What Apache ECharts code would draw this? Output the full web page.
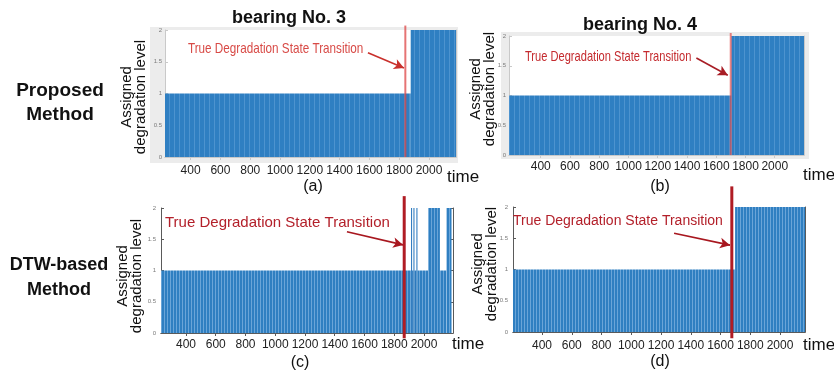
<!DOCTYPE html>
<html><head><meta charset="utf-8">
<script src="https://cdn.jsdelivr.net/npm/echarts@6/dist/echarts.min.js"></script>
<style>html,body{margin:0;padding:0;background:#fff}#c{width:834px;height:371px}</style>
</head><body><div id="c"></div>
<script>
// ---- data ----
const tickLabels = [400, 600, 800, 1000, 1200, 1400, 1600, 1800, 2000];
const yTicks = [0, 0.5, 1, 1.5, 2];
// runs of assigned degradation level: [startTime, endTime, level]
const runsA = [[228, 1877, 1], [1877, 2181, 2]];
const runsB = [[183, 1703, 1], [1703, 2200, 2]];
const runsC = [[232, 1913, 1], [1913, 1920, 2], [1920, 1929, 1], [1929, 1936, 2], [1936, 1949, 1], [1949, 1956, 2],
               [1956, 2028, 1], [2028, 2107, 2], [2107, 2151, 1], [2151, 2185, 2]];
const runsD = [[205, 1698, 1], [1698, 2168, 2]];
// true transition time and vertical extent of its marker line (level units)
const transA = [1841, 2.07, 0];
const transB = [1699, 2.05, 0];
const transC = [1867, 2.19, -0.085];
const transD = [1676, 2.33, -0.1];
// arrow from / to in data coords
const arrowA = [[1590, 1.64], [1832, 1.40]];
const arrowB = [[1464, 1.63], [1679, 1.34]];
const arrowC = [[1482, 1.62], [1860, 1.41]];
const arrowD = [[1288, 1.58], [1664, 1.39]];
const annText = 'True Degradation State Transition';

// ---- layout ----
const panels = [
  {runs: runsA, trans: transA, arrow: arrowA, xr: [228, 2181], grid: {left: 165, top: 30, width: 291, height: 127},
   frame: '#c9c9c9', lblMargin: 8, lineColor: 'rgba(222,70,70,0.75)', lineW: 2, arrowColor: '#c9302c', style: 'a'},
  {runs: runsB, trans: transB, arrow: arrowB, xr: [183, 2200], grid: {left: 509, top: 36, width: 295, height: 119},
   frame: '#c9c9c9', lblMargin: 6, lineColor: 'rgba(225,80,80,0.7)', lineW: 2, arrowColor: '#a81d25', style: 'a'},
  {runs: runsC, trans: transC, arrow: arrowC, xr: [232, 2195], grid: {left: 161, top: 208, width: 292, height: 125},
   frame: '#5a5a5a', lblMargin: 6, lineColor: '#b01c24', lineW: 3, arrowColor: '#a8171f', style: 'c'},
  {runs: runsD, trans: transD, arrow: arrowD, xr: [205, 2168], grid: {left: 513, top: 207, width: 292, height: 125},
   frame: '#5a5a5a', lblMargin: 8, lineColor: '#b01c24', lineW: 3, arrowColor: '#a8171f', style: 'c'}
];

function makePattern(base, light, period) {
  const c = document.createElement('canvas');
  c.width = period; c.height = 4;
  const g = c.getContext('2d');
  g.fillStyle = base; g.fillRect(0, 0, period, 4);
  g.fillStyle = light; g.fillRect(period - 1, 0, 1, 4);
  return {image: c, repeat: 'repeat'};
}
const patA = makePattern('#2f7fc2', '#4d93cf', 5);
const patC = makePattern('#2f7fc1', '#6aa5d8', 3);

const chart = echarts.init(document.getElementById('c'), null, {renderer: 'canvas'});

const grids = [], xAxes = [], yAxes = [], series = [];
panels.forEach((p, i) => {
  grids.push(Object.assign({show: true, backgroundColor: '#ffffff', borderWidth: 0, outerBoundsMode: 'none'}, p.grid));
  const axisFrame = {show: true, lineStyle: {color: p.frame, width: 1}};
  xAxes.push({
    type: 'value', gridIndex: i, position: 'bottom', min: p.xr[0], max: p.xr[1],
    axisLine: axisFrame, splitLine: {show: false},
    axisTick: {show: true, inside: true, length: 3, customValues: tickLabels, lineStyle: {color: p.frame}},
    axisLabel: {customValues: tickLabels, fontSize: 12, color: '#222', margin: p.lblMargin,
      fontFamily: 'Liberation Sans, Arial, sans-serif', formatter: v => String(v)}
  });
  yAxes.push({
    type: 'value', gridIndex: i, position: 'left', min: 0, max: 2,
    axisLine: axisFrame, splitLine: {show: false},
    axisTick: {show: true, inside: true, length: 3, customValues: yTicks, lineStyle: {color: p.frame}},
    axisLabel: {customValues: yTicks, fontSize: 6, color: '#7a7a7a', margin: p.style === 'a' ? 3 : 5,
      formatter: v => String(v)}
  });
  series.push({
    type: 'custom', xAxisIndex: i, yAxisIndex: i, data: p.runs, clip: true, z: 2,
    encode: {x: [0, 1], y: 2},
    renderItem: (params, api) => {
      const a = api.coord([api.value(0), api.value(2)]);
      const b = api.coord([api.value(1), 0]);
      const w = b[0] - a[0];
      return {type: 'rect', shape: {x: a[0], y: a[1], width: w, height: b[1] - a[1]},
        style: {fill: w < 2.5 ? '#2a78bd' : (p.style === 'a' ? patA : patC)}};
    }
  });
  series.push({
    type: 'custom', xAxisIndex: i, yAxisIndex: i, data: [p.trans], clip: false, z: 5,
    encode: {x: 0, y: 1},
    renderItem: (params, api) => {
      const a = api.coord([api.value(0), api.value(1)]);
      const b = api.coord([api.value(0), api.value(2)]);
      return {type: 'line', shape: {x1: a[0], y1: a[1], x2: b[0], y2: b[1]},
        style: {stroke: p.lineColor, lineWidth: p.lineW}};
    },
    markLine: {
      silent: true, symbol: ['none', 'arrow'], symbolSize: [8, 10], animation: false,
      label: {show: false},
      lineStyle: {color: p.arrowColor, width: 1.6, type: 'solid'},
      data: [[{coord: p.arrow[0]}, {coord: p.arrow[1]}]]
    }
  });
});
// top / right frame axes with inside ticks
panels.forEach((p, i) => {
  xAxes.push({
    type: 'value', gridIndex: i, position: 'top', min: p.xr[0], max: p.xr[1],
    axisLine: {show: true, lineStyle: {color: p.frame}}, splitLine: {show: false},
    axisTick: {show: true, inside: true, length: 3, customValues: tickLabels, lineStyle: {color: p.frame}},
    axisLabel: {show: false}
  });
  yAxes.push({
    type: 'value', gridIndex: i, position: 'right', min: 0, max: 2,
    axisLine: {show: true, lineStyle: {color: p.frame}}, splitLine: {show: false},
    axisTick: {show: true, inside: true, length: 3, customValues: yTicks, lineStyle: {color: p.frame}},
    axisLabel: {show: false}
  });
});

const F = 'Liberation Sans, Arial, Helvetica, sans-serif';
function txt(x, y, text, o) {
  return Object.assign({type: 'text', x: x, y: y, silent: true, z: 100,
    style: Object.assign({text: text, fontFamily: F, fill: '#111', align: 'center', verticalAlign: 'middle'}, o.style || {})},
    o.el || {});
}
const graphic = [
  // light gray figure frames of top panels
  {type: 'rect', shape: {x: 150, y: 27, width: 308, height: 136}, style: {fill: '#ececec'}, z: -10, silent: true},
  {type: 'rect', shape: {x: 501, y: 32, width: 308, height: 127}, style: {fill: '#ececec'}, z: -10, silent: true},
  txt(289, 18, 'bearing No. 3', {style: {fontSize: 18, fontWeight: 'bold'}}),
  txt(640, 25, 'bearing No. 4', {style: {fontSize: 18, fontWeight: 'bold'}}),
  txt(60, 103, 'Proposed\nMethod', {style: {fontSize: 19, fontWeight: 'bold', lineHeight: 24}}),
  txt(59, 278, 'DTW-based\nMethod', {style: {fontSize: 18, fontWeight: 'bold', lineHeight: 25}}),
  txt(134, 97, 'Assigned\ndegradation level', {style: {fontSize: 15, lineHeight: 14}, el: {rotation: Math.PI / 2}}),
  txt(483, 89, 'Assigned\ndegradation level', {style: {fontSize: 15, lineHeight: 14}, el: {rotation: Math.PI / 2}}),
  txt(130, 276, 'Assigned\ndegradation level', {style: {fontSize: 15, lineHeight: 14}, el: {rotation: Math.PI / 2}}),
  txt(485, 264, 'Assigned\ndegradation level', {style: {fontSize: 15, lineHeight: 14}, el: {rotation: Math.PI / 2}}),
  txt(188, 49, annText, {style: {fontSize: 15, fill: '#d84a46', align: 'left'}, el: {scaleX: 0.78}}),
  txt(525, 57, annText, {style: {fontSize: 15, fill: '#c42a2e', align: 'left'}, el: {scaleX: 0.74}}),
  txt(165, 223, annText, {style: {fontSize: 15, fill: '#b3202a', align: 'left'}}),
  txt(513, 221, annText, {style: {fontSize: 14, fill: '#b3202a', align: 'left'}}),
  txt(447, 177, 'time', {style: {fontSize: 17, align: 'left'}}),
  txt(803, 175, 'time', {style: {fontSize: 17, align: 'left'}}),
  txt(452, 344, 'time', {style: {fontSize: 17, align: 'left'}}),
  txt(803, 345, 'time', {style: {fontSize: 17, align: 'left'}}),
  txt(313, 187, '(a)', {style: {fontSize: 16}}),
  txt(660, 187, '(b)', {style: {fontSize: 16}}),
  txt(300, 363, '(c)', {style: {fontSize: 16}}),
  txt(660, 362, '(d)', {style: {fontSize: 16}})
];

chart.setOption({
  animation: false,
  backgroundColor: '#ffffff',
  grid: grids, xAxis: xAxes, yAxis: yAxes, series: series, graphic: graphic
});
</script></body></html>
